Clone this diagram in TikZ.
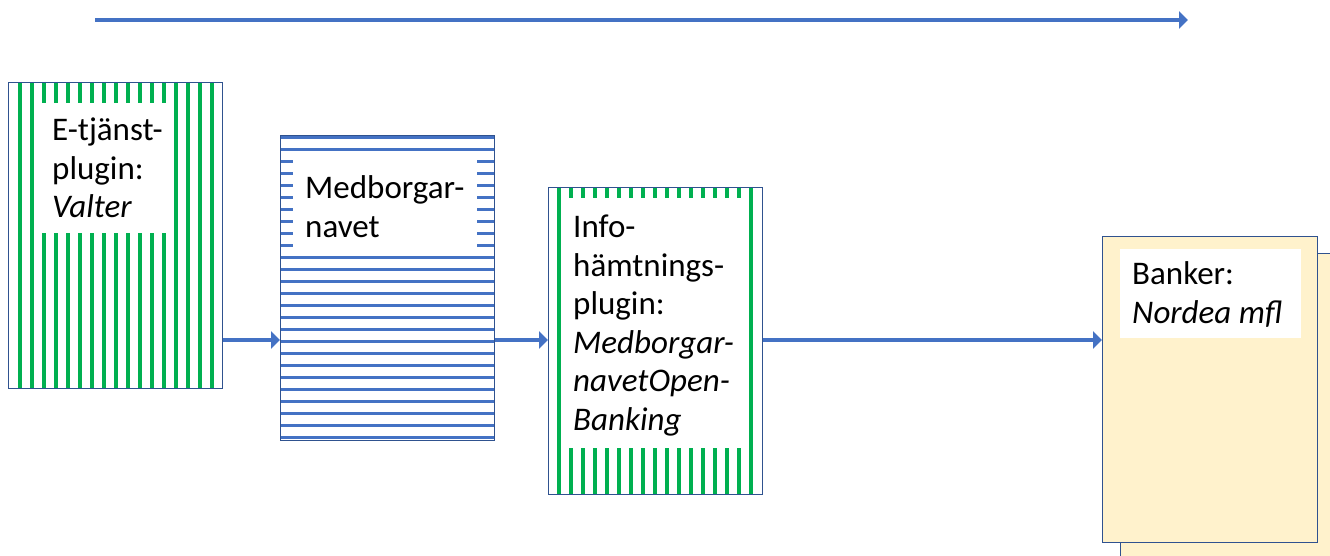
\documentclass[tikz,border=0pt]{standalone}
\usepackage{fontspec}
\setmainfont{Carlito}
\usetikzlibrary{arrows.meta}
\definecolor{flowblue}{HTML}{4472C4}
\definecolor{edgeblue}{HTML}{2F528F}
\definecolor{stripegreen}{HTML}{00B050}
\definecolor{bankfill}{HTML}{FFF2CC}
\tikzset{
  boxframe/.style={draw=edgeblue, line width=1.3pt, inner sep=0pt, anchor=north west},
  vstripe/.style={stripegreen, line width=3.2pt},
  hstripe/.style={flowblue, line width=3pt},
  labelpad/.style={fill=white, draw=none},
  % base anchor of a multi-line node sits on its last line
  lbl/.style={font=\fontsize{33}{38.5}\selectfont, align=left, inner sep=0pt, anchor=base west},
  flow/.style={flowblue, line width=3.2pt, -{Triangle[length=9pt,width=17pt]}},
}
\begin{document}
\begin{tikzpicture}[x=1pt,y=-1pt]
\useasboundingbox (0,0) rectangle (1330,556);
\clip (0,0) rectangle (1330,556);

% top timeline arrow
\coordinate (tl-start) at (95,20);
\coordinate (tl-end) at (1188,20);
\draw[flow] (tl-start) -- (tl-end);

% level of the flow between the components
\coordinate (flowline) at (0,340);

% --- E-tjänst-plugin ---
\foreach \k in {0,...,16} {
  \draw[vstripe] ({20+12*\k},82) -- ({20+12*\k},388);
}
\fill[labelpad] (40,103) rectangle (170,233);
\node[boxframe, minimum width=214pt, minimum height=306pt] (etj) at (8,82) {};
\node[lbl] (etj-text) at (52,218) {E-tjänst-\\plugin:\\\textit{Valter}};

% --- Medborgarnavet ---
\foreach \k in {0,...,25} {
  \draw[hstripe] (280,{137.5+12*\k}) -- (494,{137.5+12*\k});
}
\fill[labelpad] (293,160) rectangle (477,256);
\node[boxframe, minimum width=214pt, minimum height=305pt] (nav) at (280,135) {};
\node[lbl] (nav-text) at (305,237) {Medborgar-\\navet};

% --- Infohämtningsplugin ---
\foreach \k in {0,...,16} {
  \draw[vstripe] ({559+12*\k},187) -- ({559+12*\k},494);
}
\fill[labelpad] (563,198) rectangle (747,448);
\node[boxframe, minimum width=214pt, minimum height=307pt] (info) at (548,187) {};
\node[lbl] (info-text) at (573,430) {Info-\\hämtnings-\\plugin:\\\textit{Medborgar-}\\\textit{navetOpen-}\\\textit{Banking}};

% --- Banker ---
\node[boxframe, fill=bankfill, minimum width=240pt, minimum height=330pt] (bank-back) at (1120,253) {};
\node[boxframe, fill=bankfill, minimum width=215pt, minimum height=306pt] (bank) at (1102,236) {};
\fill[labelpad] (1120,249) rectangle (1301,338);
\node[lbl] (bank-text) at (1132,323) {Banker:\\\textit{Nordea mfl}};

% flow connectors
\draw[flow] (etj.east |- flowline) -- (nav.west |- flowline);
\draw[flow] (nav.east |- flowline) -- (info.west |- flowline);
\draw[flow] (info.east |- flowline) -- (bank.west |- flowline);
\end{tikzpicture}
\end{document}
